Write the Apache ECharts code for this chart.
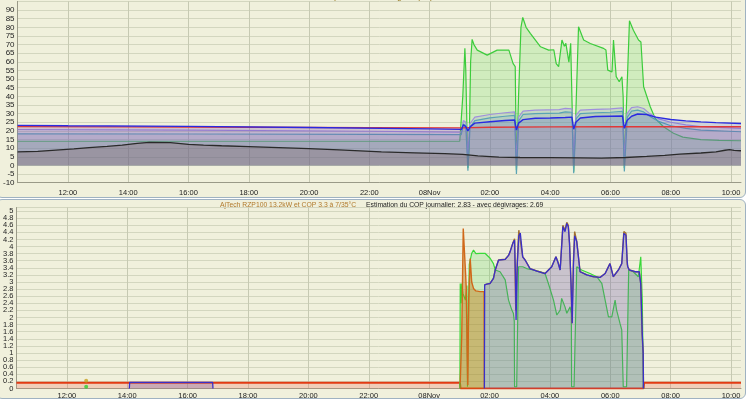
<!DOCTYPE html>
<html><head><meta charset="utf-8">
<script src="https://cdn.jsdelivr.net/npm/echarts@6/dist/echarts.min.js"></script>
<style>
html,body{margin:0;padding:0;background:#fff;}
#wrap{position:relative;width:750px;height:409px;overflow:hidden;}
.panel{position:absolute;background:#f0f0dc;border:1.5px solid #9fb2c2;border-radius:6px;box-sizing:border-box;}
#p1{left:-4px;top:-10px;width:750px;height:208px;}
#p2{left:-4px;top:199px;width:750px;height:200px;}
#chart{position:absolute;left:0;top:0;width:750px;height:409px;}
</style></head><body>
<div id="wrap"><div class="panel" id="p1"></div><div class="panel" id="p2"></div><div id="chart"></div></div>
<script>
// ---- axes (hours counted from 7 Nov 00:00) ----
const xMin = 10.33, xMax = 34.33;
const xTicks = [12,14,16,18,20,22,24,26,28,30,32,34];
const xTickLabels = ['12:00','14:00','16:00','18:00','20:00','22:00','08Nov','02:00','04:00','06:00','08:00','10:00'];
const copZeroLabel = [0];
const topTitle = 'Températures en degrés (°C)';
const bottomTitle1 = 'AjTech RZP100 13.2kW et COP 3.3 à 7/35°C';
const bottomTitle2 = 'Estimation du COP journalier: 2.83 - avec dégivrages: 2.69';

// ---- top chart: temperatures ----
const tempExt = [[10.33,7.8],[11,8.2],[11.6,8.9],[12.2,9.6],[12.7,10.3],[13.3,11],[13.8,11.8],[14.3,12.8],[14.7,13.3],[15.4,13.2],[16,12.2],[16.5,11.8],[17.1,11.4],[18,10.9],[19,10.3],[20,9.7],[21,9.0],[22.4,7.9],[23.5,7.3],[24.5,6.8],[25.1,6.4],[25.6,5.5],[26.3,4.8],[27,4.6],[28,4.5],[29,4.4],[29.7,4.2],[30.5,4.6],[31.2,5.2],[31.8,5.8],[32.3,6.5],[33,7.2],[33.5,7.9],[33.8,8.8],[33.95,9.2],[34.1,8.7],[34.33,8.5]];
const tempInt = [[10.33,22.5],[14,22.3],[18,22.1],[22,21.9],[25,21.8],[26,22.1],[28,22.3],[30,22.4],[34.33,22.4]];
const tempDepart = [[10.33,23.2],[12,23.0],[16,22.6],[20,22.0],[24,21.2],[25.06,20.9],[25.12,23.5],[25.2,22.5],[25.27,20],[25.35,22.5],[25.5,24.5],[26,25.3],[26.5,26],[26.82,26.3],[26.88,20.5],[26.95,24.5],[27.1,26.5],[27.5,27.3],[28,27.5],[28.5,27.8],[28.72,28],[28.78,21],[28.85,25],[29,27.5],[29.5,28.3],[30,28.5],[30.4,28.6],[30.46,21.5],[30.55,26],[30.7,28.5],[30.9,29.8],[31.2,29.5],[31.5,28],[32,26.6],[32.5,25.8],[33,25.2],[33.5,24.8],[34.33,24.3]];
const tempSortie = [[10.33,20.8],[16,20.5],[22,19.8],[25.05,19.3],[25.12,26],[25.2,25],[25.27,6],[25.33,24],[25.5,28],[26,29.5],[26.5,30.5],[26.82,31],[26.88,3],[26.95,28],[27.1,31.5],[27.5,32],[28.3,32.3],[28.5,33],[28.72,32.8],[28.78,4],[28.85,29],[29,32],[29.5,32.5],[30,32.8],[30.4,33.3],[30.46,4],[30.55,30],[30.7,33.5],[30.9,34],[31.1,33],[31.3,30],[31.6,27],[32,25],[32.5,23.5],[33,22.5],[34.33,21.5]];
const tempRetour = [[10.33,18.3],[16,18.2],[22,18],[25.05,17.8],[25.12,24],[25.2,23],[25.27,-3],[25.34,22],[25.5,26],[26,27.5],[26.5,28.5],[26.82,29],[26.88,-5],[26.96,26],[27.1,29.5],[27.5,30],[28.3,30.3],[28.5,31],[28.72,30.8],[28.78,-4.5],[28.86,27],[29,30],[29.5,30.5],[30,30.8],[30.4,31.3],[30.46,-3.5],[30.56,28],[30.7,31.5],[30.9,32],[31.1,31],[31.3,28.5],[31.6,25.5],[32,23],[32.5,21.5],[33,20.5],[34.33,19.5]];
const tempCompresseur = [[10.33,14.0],[20,14.0],[25.0,14.0],[25.05,14.2],[25.10,40],[25.17,67.8],[25.2,55],[25.24,20],[25.27,-1.5],[25.31,10],[25.36,60],[25.41,73],[25.47,70],[25.58,66.8],[25.91,63.9],[26.24,66.8],[26.63,66.8],[26.77,59],[26.84,57.2],[26.88,-2.7],[26.95,40],[27.03,80],[27.09,85.7],[27.2,80],[27.34,76.5],[27.68,68.7],[27.95,66.8],[28.12,67],[28.2,59],[28.28,57.2],[28.39,72.6],[28.47,69],[28.52,70.7],[28.62,59.8],[28.68,70.7],[28.72,40],[28.78,-3.6],[28.85,30],[28.94,80.3],[29.11,72.6],[29.33,70.6],[29.77,67.8],[29.85,66.8],[29.91,55.2],[30.05,54.2],[30.10,72.6],[30.14,71.5],[30.19,51.4],[30.29,48.5],[30.38,51.4],[30.42,40],[30.46,-1.5],[30.54,40],[30.63,83.8],[30.76,78.3],[30.93,72.6],[31.01,71.5],[31.10,45.6],[31.21,39.8],[31.32,34],[31.48,27.3],[31.76,22.4],[32.09,18.6],[32.4,16.4],[33,15.0],[33.6,14.5],[34.33,14.3]];

// ---- bottom chart: COP ----
const copVeille = [[10.33,0.16],[25.02,0.16],[25.04,0],[31.1,0],[31.12,0.16],[34.33,0.16]];
const copDemarrage = [[25.03,0.16],[25.08,1.5],[25.13,4.51],[25.17,4.56],[25.21,3.2],[25.23,2.8],[25.26,1.0],[25.28,0.1],[25.31,2.5],[25.36,3.66],[25.41,3.0],[25.47,2.82],[25.55,2.75],[25.69,2.73],[25.82,2.73],[25.83,0]];
const copDegivrage = [[25.83,2.92],[25.91,2.94],[26.02,2.96],[26.13,3.1],[26.19,3.34],[26.30,3.62],[26.52,3.64],[26.63,3.75],[26.68,3.85],[26.77,4.09],[26.83,4.22],[26.85,3.0],[26.87,2.2],[26.92,3.6],[26.97,4.46],[27.02,4.42],[27.1,3.71],[27.18,3.62],[27.34,3.38],[27.57,3.31],[27.84,3.24],[28.06,3.43],[28.2,3.71],[28.27,3.55],[28.34,3.34],[28.43,4.6],[28.50,4.46],[28.56,4.68],[28.61,4.6],[28.65,4.09],[28.70,2.9],[28.73,1.84],[28.78,3.6],[28.82,4.42],[28.89,4.14],[29.0,3.29],[29.22,3.2],[29.44,3.15],[29.66,3.13],[29.83,3.24],[29.99,3.52],[30.10,3.15],[30.27,3.34],[30.38,3.52],[30.45,4.42],[30.52,4.37],[30.56,3.5],[30.58,3.43],[30.63,3.34],[30.82,3.29],[30.96,3.29],[31.01,2.94],[31.05,1.55],[31.09,1.0],[31.1,0]];
const copMesure = [[14.07,0],[14.08,0.17],[16.83,0.17],[16.84,0],[16.85,'-'],[25.82,'-'],[25.83,0],[25.84,2.92],[25.91,2.94],[26.02,2.96],[26.13,3.1],[26.19,3.34],[26.30,3.62],[26.52,3.64],[26.63,3.75],[26.68,3.85],[26.77,4.09],[26.83,4.18],[26.86,3.2],[26.88,1.93],[26.92,3.5],[26.97,4.3],[27.02,4.38],[27.1,3.71],[27.18,3.62],[27.34,3.38],[27.57,3.31],[27.84,3.24],[28.06,3.43],[28.2,3.71],[28.27,3.55],[28.34,3.34],[28.43,4.56],[28.50,4.42],[28.56,4.65],[28.61,4.56],[28.65,4.09],[28.70,3.0],[28.74,1.84],[28.78,3.5],[28.82,4.3],[28.89,4.14],[29.0,3.29],[29.22,3.2],[29.44,3.15],[29.66,3.13],[29.83,3.24],[29.99,3.52],[30.10,3.15],[30.27,3.34],[30.38,3.52],[30.45,4.37],[30.52,4.32],[30.56,3.6],[30.58,3.43],[30.63,3.34],[30.82,3.29],[30.96,3.29],[31.01,2.94],[31.06,1.55],[31.09,1.0],[31.1,0]];
const copTheorique = [[25.02,0],[25.03,2.96],[25.06,2.4],[25.08,2.96],[25.12,2.68],[25.20,2.49],[25.25,2.9],[25.27,0.05],[25.29,0.05],[25.33,3.5],[25.41,3.81],[25.47,3.90],[25.55,3.8],[25.69,3.81],[25.85,3.81],[26.02,3.67],[26.13,3.52],[26.19,3.34],[26.35,3.29],[26.52,3.06],[26.63,2.49],[26.74,2.21],[26.79,2.12],[26.82,1.9],[26.83,0.05],[26.90,0.05],[26.96,3.43],[27.10,3.43],[27.23,3.38],[27.45,3.34],[27.68,3.29],[27.84,3.24],[27.95,2.96],[28.12,2.49],[28.23,2.07],[28.34,2.21],[28.39,2.54],[28.50,2.3],[28.56,2.12],[28.67,2.3],[28.71,2.1],[28.72,0.05],[28.80,0.05],[28.89,3.43],[29.05,3.34],[29.33,3.24],[29.55,3.15],[29.72,2.96],[29.83,2.49],[29.94,2.02],[30.05,2.02],[30.16,2.49],[30.21,2.21],[30.32,1.84],[30.38,1.65],[30.42,1.6],[30.43,0.05],[30.54,0.05],[30.61,3.34],[30.76,3.29],[30.93,3.15],[31.01,3.71],[31.06,2.49],[31.09,0.5],[31.1,0]];
const blipOrange = [[12.64,0.22]];
const blipGreen = [[12.64,0.05]];

const FONT = "'Liberation Sans',Arial,sans-serif";
const chart = echarts.init(document.getElementById('chart'), null, {renderer:'canvas'});

function xAxisCfg(gi, margin){
  return {
    type:'value', gridIndex:gi, min:xMin, max:xMax,
    axisLine:{show:true, onZero:false, lineStyle:{color:'#9a9a88', width:1}},
    axisTick:{show:false, customValues:xTicks},
    axisLabel:{customValues:xTicks, margin:margin, fontSize:7.5, color:'#222', fontFamily:FONT,
      formatter:function(v){ const i = xTicks.indexOf(Math.round(v)); return i>=0 ? xTickLabels[i] : ''; }},
    splitLine:{show:true, lineStyle:{color:'#c6c9b2', width:1}}
  };
}
function lineS(name, data, color, fill, xi, width, z){
  const s = {name:name, type:'line', xAxisIndex:xi, yAxisIndex:xi, data:data, symbol:'none',
    lineStyle:{color:color, width:width||1.2}, itemStyle:{color:color}, z:z||2, connectNulls:false};
  if (fill) s.areaStyle = {color:fill, origin:0};
  return s;
}
const copLabelFmt = function(v){ return String(Math.round(v*10)/10); };

const option = {
  animation:false,
  backgroundColor:'transparent',
  textStyle:{fontFamily:FONT},
  grid:[
    {left:16, right:9, top:1.4, height:181.3},
    {left:16, right:9, top:207.5, height:181}
  ],
  xAxis:[xAxisCfg(0,6), xAxisCfg(1,3)],
  yAxis:[
    {type:'value', gridIndex:0, min:-10, max:95, interval:5,
     axisLine:{show:true, lineStyle:{color:'#9a9a88'}}, axisTick:{show:false},
     axisLabel:{showMaxLabel:false, showMinLabel:true, fontSize:8, color:'#222', margin:3, fontFamily:FONT},
     splitLine:{show:true, lineStyle:{color:'#d3d6bf'}}},
    {type:'value', gridIndex:1, min:0, max:5.1, interval:0.2,
     axisLine:{show:true, lineStyle:{color:'#9a9a88'}}, axisTick:{show:false},
     axisLabel:{showMaxLabel:false, showMinLabel:false, fontSize:7.5, color:'#222', margin:3, fontFamily:FONT,
       formatter:copLabelFmt},
     splitLine:{show:true, lineStyle:{color:'#d3d6bf'}}},
    {type:'value', gridIndex:1, min:0, max:5.1, position:'left',
     axisLine:{show:false}, axisTick:{show:false}, splitLine:{show:false},
     axisLabel:{customValues:copZeroLabel, showMinLabel:true, fontSize:7.5, color:'#222', margin:3, fontFamily:FONT,
       formatter:copLabelFmt}}
  ],
  graphic:[
    {type:'text', left:'center', top:-8, style:{text:topTitle, fontSize:9, fill:'#9a7a20', fontFamily:FONT}},
    {type:'text', x:220, y:199.5, style:{
      text:'{a|'+bottomTitle1+'}   {b|'+bottomTitle2+'}',
      rich:{a:{fontSize:6.8, fill:'#b0782a', fontFamily:FONT}, b:{fontSize:6.8, fill:'#222', fontFamily:FONT}}}}
  ],
  series:[
    lineS('Compresseur', tempCompresseur, '#3ccc3c', 'rgba(110,225,100,0.36)', 0, 1.2, 2),
    lineS('Sortie', tempSortie, '#a090dc', 'rgba(150,140,220,0.26)', 0, 1.2, 3),
    lineS('Retour', tempRetour, '#5aa4b4', 'rgba(100,140,180,0.2)', 0, 1.2, 3),
    lineS('Intérieur', tempInt, '#e03838', 'rgba(210,80,140,0.2)', 0, 1.3, 4),
    lineS('Départ', tempDepart, '#2a2ae0', 'rgba(60,80,200,0.25)', 0, 1.4, 4),
    lineS('Extérieur', tempExt, '#2a2a2a', 'rgba(110,75,70,0.32)', 0, 1.3, 5),

    lineS('Veille', copVeille, '#e23a14', 'rgba(240,130,110,0.45)', 1, 2, 3),
    lineS('Théorique', copTheorique, '#38d838', 'rgba(100,220,100,0.35)', 1, 1.2, 3),
    lineS('Démarrage', copDemarrage, '#d0681a', 'rgba(190,120,20,0.62)', 1, 1.4, 4),
    lineS('Dégivrage', copDegivrage, '#a07030', null, 1, 1.4, 4),
    lineS('Mesuré', copMesure, '#3a30c8', 'rgba(110,90,170,0.42)', 1, 1.3, 5),
    {type:'scatter', xAxisIndex:1, yAxisIndex:1, data:blipOrange, symbolSize:4, itemStyle:{color:'#c8a020'}, z:6},
    {type:'scatter', xAxisIndex:1, yAxisIndex:1, data:blipGreen, symbolSize:4, itemStyle:{color:'#30d030'}, z:6}
  ]
};
chart.setOption(option);
</script>
</body></html>
